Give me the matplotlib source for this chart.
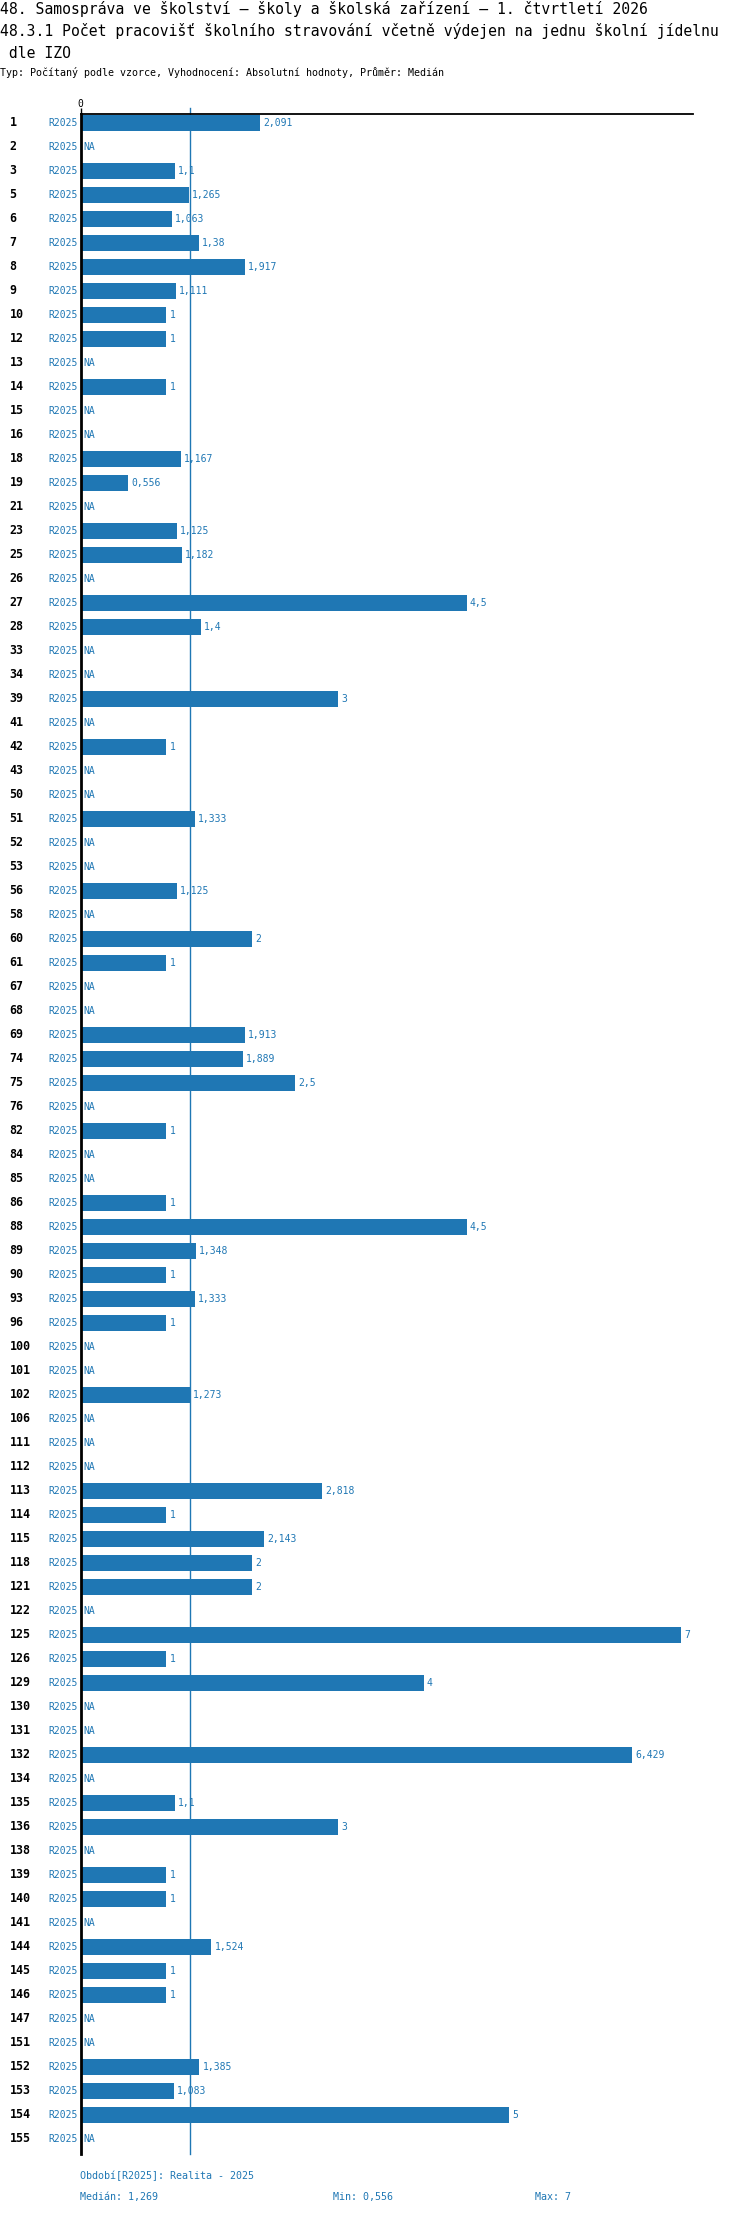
import matplotlib.pyplot as plt
import matplotlib.transforms as mtransforms

# source data
rows = ["1", "2", "3", "5", "6", "7", "8", "9", "10", "12", "13", "14", "15", "16", "18", "19",
        "21", "23", "25", "26", "27", "28", "33", "34", "39", "41", "42", "43", "50", "51", "52",
        "53", "56", "58", "60", "61", "67", "68", "69", "74", "75", "76", "82", "84", "85", "86",
        "88", "89", "90", "93", "96", "100", "101", "102", "106", "111", "112", "113", "114",
        "115", "118", "121", "122", "125", "126", "129", "130", "131", "132", "134", "135", "136",
        "138", "139", "140", "141", "144", "145", "146", "147", "151", "152", "153", "154", "155"]
values = [2.091, None, 1.1, 1.265, 1.063, 1.38, 1.917, 1.111, 1, 1, None, 1, None, None, 1.167, 0.556,
          None, 1.125, 1.182, None, 4.5, 1.4, None, None, 3, None, 1, None, None, 1.333, None,
          None, 1.125, None, 2, 1, None, None, 1.913, 1.889, 2.5, None, 1, None, None, 1,
          4.5, 1.348, 1, 1.333, 1, None, None, 1.273, None, None, None, 2.818, 1,
          2.143, 2, 2, None, 7, 1, 4, None, None, 6.429, None, 1.1, 3,
          None, 1, 1, None, 1.524, 1, 1, None, None, 1.385, 1.083, 5, None]
period = "R2025"
median_value = 1.269
min_value = 0.556
max_value = 7

title1 = "48. Samospráva ve školství – školy a školská zařízení – 1. čtvrtletí 2026"
title2 = "48.3.1 Počet pracovišť školního stravování včetně výdejen na jednu školní jídelnu"
title3 = " dle IZO"
subtitle = "Typ: Počítaný podle vzorce, Vyhodnocení: Absolutní hodnoty, Průměr: Medián"

blue = "#1f77b4"
W, H = 750, 2214
plt.rcParams['font.family'] = ['DejaVu Sans Mono', 'DejaVu Sans']


def czech(v):
    s = f"{v:.3f}".rstrip("0").rstrip(".")
    return s.replace(".", ",")


fig = plt.figure(figsize=(W / 100, H / 100), dpi=100)
ax = fig.add_axes([80.7 / W, 1 - 2154 / H, (693 - 80.7) / W, (2154 - 114.3) / H])

ypos = list(range(len(rows)))
bar_vals = [v if v is not None else 0 for v in values]
ax.barh(ypos, bar_vals, height=0.66, color=blue, zorder=2)
ax.set_xlim(0, 7.14)
ax.set_ylim(len(rows) - 1 + 0.625, -0.3625)

ax.axvline(median_value, color=blue, lw=1, zorder=1, ymax=1.003, clip_on=False)

for s in ["right", "bottom"]:
    ax.spines[s].set_visible(False)
ax.spines["left"].set_linewidth(2)
ax.spines["left"].set_zorder(3)
ax.spines["top"].set_linewidth(1.3)
ax.xaxis.tick_top()
ax.set_xticks([0])
ax.set_xticklabels(["0"], fontsize=7)
ax.tick_params(axis="x", length=4, width=1, pad=0)
ax.set_yticks([])

off = mtransforms.offset_copy(ax.transData, fig=fig, x=3, y=0, units="dots")
for i, (r, v) in enumerate(zip(rows, values)):
    label = "NA" if v is None else czech(v)
    ax.text(v if v is not None else 0, i, label, transform=off, color=blue,
            fontsize=7, va="center", ha="left")

lab_tr = mtransforms.blended_transform_factory(fig.transFigure, ax.transData)
for i, r in enumerate(rows):
    ax.text(9.5 / W, i, r, transform=lab_tr, fontsize=8.4, fontweight="bold",
            va="center", ha="left", color="black")
    ax.text(77.5 / W, i, period, transform=lab_tr, fontsize=7, va="center",
            ha="right", color=blue)


def ftext(x, y, s, **kw):
    fig.text(x / W, 1 - y / H, s, va="center", ha="left", **kw)


ftext(0, 9, title1, fontsize=10.6, color="black")
ftext(0, 31, title2, fontsize=10.6, color="black")
ftext(0, 53, title3, fontsize=10.6, color="black")
ftext(0, 73, subtitle, fontsize=7.2, color="black")

ftext(80, 2176, f"Období[{period}]: Realita - 2025", fontsize=7.2, color=blue)
ftext(80, 2197, f"Medián: {czech(median_value)}", fontsize=7.2, color=blue)
ftext(333, 2197, f"Min: {czech(min_value)}", fontsize=7.2, color=blue)
ftext(535, 2197, f"Max: {czech(max_value)}", fontsize=7.2, color=blue)

fig.savefig("out.png", dpi=100)
